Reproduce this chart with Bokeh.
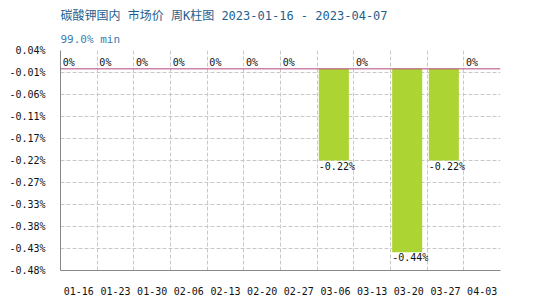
import numpy as np
from bokeh.plotting import figure
from bokeh.models import (Range1d, FixedTicker, Grid, Span, Title, ColumnDataSource,
                          PrintfTickFormatter)
from bokeh.transform import dodge
from bokeh.embed import file_html
from bokeh.resources import INLINE
from bokeh.core.properties import value

# ---- data ----
categories = ["01-16", "01-23", "01-30", "02-06", "02-13", "02-20",
              "02-27", "03-06", "03-13", "03-20", "03-27", "04-03"]
values = [0, 0, 0, 0, 0, 0, 0, -0.22, 0, -0.44, -0.22, 0]
y_tick_labels = ["0.04%", "-0.01%", "-0.06%", "-0.11%", "-0.17%", "-0.22%",
                 "-0.27%", "-0.33%", "-0.38%", "-0.43%", "-0.48%"]
title_text = "碳酸钾国内 市场价 周K柱图 2023-01-16 - 2023-04-07"
subtitle_text = "99.0% min"

y_max, y_min = 0.044, -0.484

MONO = "DejaVu Sans Mono, Noto Sans CJK SC"
BAR = "#acd533"
ZERO = "#b5487f"
TITLE_C = "#1f5f8e"
GRID_C = "#c8c8c8"

xs = list(range(len(categories)))
labels = [f"{v:g}%" for v in values]
src = ColumnDataSource(dict(x=xs, v=values, lab=labels))

p = figure(width=550, height=300, output_backend="svg", toolbar_location=None,
           x_range=Range1d(-0.5, len(categories) - 0.5),
           y_range=Range1d(y_min, y_max),
           min_border_left=60, min_border_right=50, min_border_top=50,
           min_border_bottom=30, background_fill_color="white",
           border_fill_color="white", outline_line_color=None)
p.title = None

sub = Title(text=subtitle_text, text_font=MONO, text_font_size="11px",
            text_color="#3b7bb0", text_font_style="normal", offset=0,
            standoff=10)
p.add_layout(sub, "above")
main = Title(text=title_text, text_font=MONO, text_font_size="12px",
             text_color=TITLE_C, text_font_style="normal", offset=0,
             standoff=5)
p.add_layout(main, "above")

# axes
step = (y_max - y_min) / (len(y_tick_labels) - 1)
y_ticks = [round(y_max - i * step, 4) for i in range(len(y_tick_labels))]
p.yaxis.ticker = FixedTicker(ticks=y_ticks)
p.yaxis.formatter = PrintfTickFormatter(format="%.2f%%")
p.yaxis.major_label_overrides = {t: l for t, l in zip(y_ticks, y_tick_labels)}
p.xaxis.ticker = FixedTicker(ticks=xs)
p.xaxis.major_label_overrides = {i: c for i, c in zip(xs, categories)}

for ax in (p.xaxis, p.yaxis):
    ax.major_tick_line_color = None
    ax.minor_tick_line_color = None
    ax.axis_line_color = "#888888"
    ax.axis_line_width = 1
    ax.major_label_text_font = MONO
    ax.major_label_text_font_size = "10px"
    ax.major_label_text_color = "#111111"
p.yaxis.major_label_standoff = 9
p.xaxis.major_label_standoff = 10

# grids
p.xgrid.visible = False
p.ygrid.grid_line_color = GRID_C
p.ygrid.grid_line_dash = "4 2"
p.ygrid.ticker = FixedTicker(ticks=y_ticks)
vgrid = Grid(dimension=0, ticker=FixedTicker(ticks=[i + 0.5 for i in xs]),
             grid_line_color=GRID_C, grid_line_dash="4 2")
p.add_layout(vgrid)

# bars
p.vbar(x=dodge("x", -0.045, range=p.x_range), top="v", bottom=0, width=0.82,
       source=src, fill_color=BAR, line_color=None)

# zero line
p.add_layout(Span(location=0, dimension="width", line_color=ZERO, line_width=1))

# value labels
zero_src = ColumnDataSource(dict(x=[x for x, v in zip(xs, values) if v == 0],
                                 v=[v for v in values if v == 0],
                                 lab=[l for l, v in zip(labels, values) if v == 0]))
neg_src = ColumnDataSource(dict(x=[x for x, v in zip(xs, values) if v != 0],
                                v=[v for v in values if v != 0],
                                lab=[l for l, v in zip(labels, values) if v != 0]))
p.text(x=dodge("x", -0.44, range=p.x_range), y="v", text="lab", source=zero_src,
       text_font=value("DejaVu Sans Mono"), text_font_size="10px",
       text_color="#111111", text_align="left", text_baseline="bottom",
       y_offset=-1)
p.text(x=dodge("x", -0.455, range=p.x_range), y="v", text="lab", source=neg_src,
       text_font=value("DejaVu Sans Mono"), text_font_size="10px",
       text_color="#111111", text_align="left", text_baseline="top")

open("out.html", "w").write(file_html(p, INLINE))
